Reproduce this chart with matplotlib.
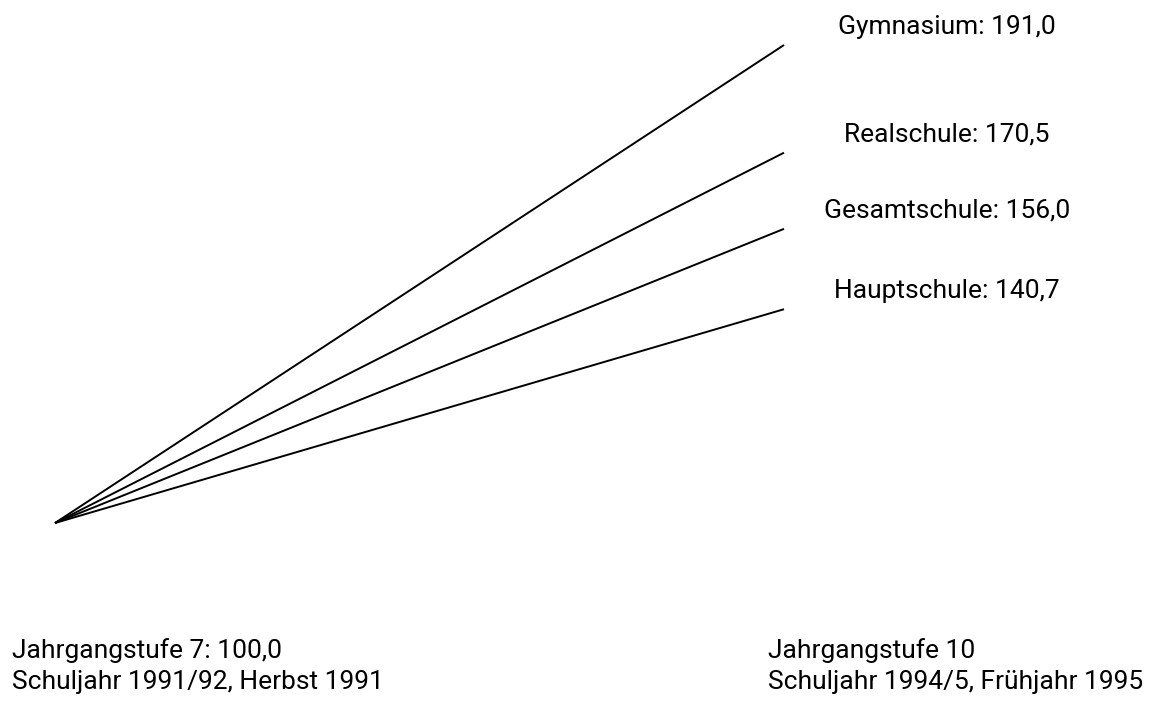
import matplotlib
matplotlib.use('Agg')
import matplotlib.pyplot as plt

# Daten: Index, Jahrgangsstufe 7 = 100
schulformen = ['Gymnasium', 'Realschule', 'Gesamtschule', 'Hauptschule']
start_wert = 100.0
end_werte = [191.0, 170.5, 156.0, 140.7]
zeitpunkte = [0, 1]

links_text = ['Jahrgangstufe 7: 100,0', 'Schuljahr 1991/92, Herbst 1991']
rechts_text = ['Jahrgangstufe 10', 'Schuljahr 1994/5, Frühjahr 1995']

plt.rcParams['font.family'] = ['Roboto', 'DejaVu Sans']

W, H = 1152, 705
fig = plt.figure(figsize=(W / 100, H / 100), dpi=100)
ax = fig.add_axes([0, 0, 1, 1])
ax.axis('off')

# Achsengrenzen so, dass Start bei Pixel (55, 523) und Gymnasium-Ende bei (784, 45) liegt
px_x = (784 - 55) / (zeitpunkte[1] - zeitpunkte[0])
x0 = zeitpunkte[0] - 55 / px_x
ax.set_xlim(x0, x0 + W / px_x)
px_y = (523 - 45) / (max(end_werte) - start_wert)
y0 = start_wert - (H - 523) / px_y
ax.set_ylim(y0, y0 + H / px_y)

for name, wert in zip(schulformen, end_werte):
    ax.plot(zeitpunkte, [start_wert, wert], color='black', lw=1.4,
            solid_capstyle='butt')
    ax.annotate(f'{name}: {wert:.1f}'.replace('.', ','),
                xy=(zeitpunkte[1], wert), xytext=(163, 18),
                textcoords='offset pixels', ha='center', va='center',
                fontsize=19)

# Beschriftung unten, Grundlinien bei 658 und 689 px
for i, (l, r) in enumerate(zip(links_text, rechts_text)):
    y = 1 - (658 + 31 * i) / H
    fig.text(12 / W, y, l, ha='left', va='baseline', fontsize=19)
    fig.text(768 / W, y, r, ha='left', va='baseline', fontsize=19)

fig.savefig('out.png', dpi=100, facecolor='white')
